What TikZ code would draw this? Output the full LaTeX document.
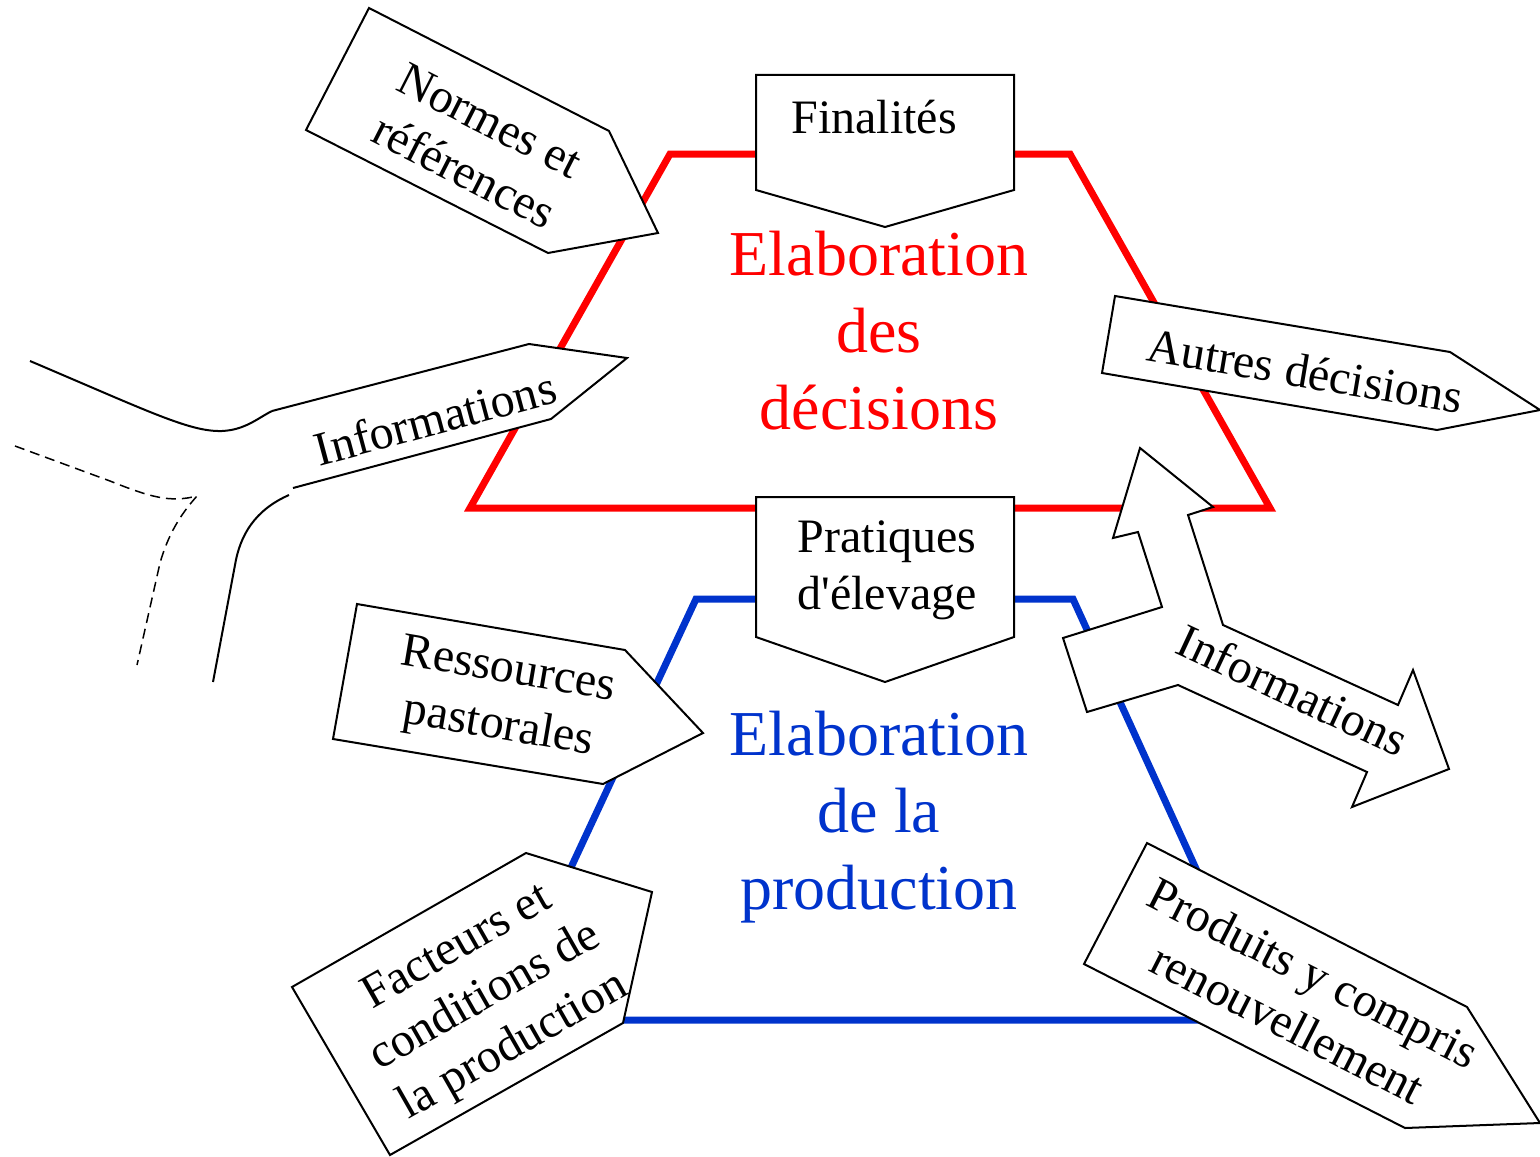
\documentclass[tikz,border=0pt]{standalone}
\usepackage{fontspec}
\setmainfont{Liberation Serif}
\definecolor{prodblue}{RGB}{0,51,204}
\begin{document}
\begin{tikzpicture}[x=0.5pt,y=-0.5pt,
  hexred/.style={draw=red, line width=3.5pt, line join=miter},
  hexblue/.style={draw=prodblue, line width=3.5pt, line join=miter},
  tag/.style={draw=black, fill=white, line width=1pt, line join=miter},
  flow/.style={draw=black, line width=1pt},
  flowdash/.style={draw=black, line width=0.75pt, dash pattern=on 5pt off 3pt},
  lbl/.style={font=\fontsize{24}{28.5}\selectfont, align=center, inner sep=0pt},
  title/.style={font=\fontsize{32}{38.5}\selectfont, align=center, inner sep=0pt}]
\useasboundingbox (0,0) rectangle (1540,1156);

% the two decision levels
\draw[hexred] (670,154) -- (1070,154) -- (1270,508) -- (470,508) -- cycle;
\draw[hexblue] (696,599) -- (1073,599) -- (1265,1020) -- (500,1020) -- cycle;

\node[title, text=red] (decisions) at (879,331) {Elaboration\\des\\décisions};
\node[title, text=prodblue] (production) at (879,817) {Elaboration\\de la\\production};

% top and middle tags
\draw[tag] (756,75) -- (1014,75) -- (1014,190) -- (885,227) -- (756,190) -- cycle;
\node[lbl] (finalites) at (874,117) {Finalités};
\draw[tag] (756,497) -- (1014,497) -- (1014,637) -- (885,682) -- (756,637) -- cycle;
\node[lbl] (pratiques) at (887,570) {Pratiques\\d\textquotesingle élevage};

% inputs on the left
\draw[tag] (369,8) -- (609,131) -- (658,233) -- (548,253) -- (306,130) -- cycle;
\node[lbl, rotate=-27] (normes) at (477,146) {Normes et\\références};

\fill[white] (272,411) -- (529,344) -- (627,358) -- (551,419) -- (293,488) -- (288,497) -- cycle;
\draw[flow, line join=miter] (293,488) -- (551,419) -- (627,358) -- (529,344) -- (272,411);
\node[lbl, rotate=15] (infoL) at (435,418) {Informations};
\draw[flow] (30,361) .. controls (150,412) and (190,432) .. (222,431)
  .. controls (245,430) and (258,418) .. (272,411);
\draw[flow] (289,495) .. controls (255,510) and (240,535) .. (235,565) -- (213,682);
\draw[flowdash] (15,446) -- (110,481) .. controls (150,497) and (170,503) .. (197,496)
  .. controls (180,515) and (168,535) .. (160,563) -- (137,665);

\draw[tag] (357,604) -- (625,650) -- (703,733) -- (603,784) -- (333,739) -- cycle;
\node[lbl, rotate=-9.6] (ressources) at (503,700) {Ressources\\pastorales};

\draw[tag] (526,853) -- (652,892) -- (623,1023) -- (390,1155) -- (292,987) -- cycle;
\node[lbl, rotate=29.7] (facteurs) at (486,998) {Facteurs et\\conditions de\\la production};

% outputs on the right
\draw[tag] (1115,296) -- (1450,352) -- (1540,410) -- (1437,430) -- (1102,373) -- cycle;
\node[lbl, rotate=-9.5] (autres) at (1305,371) {Autres décisions};

\draw[tag] (1140,448) -- (1213,507) -- (1188,515) -- (1223,625) -- (1398,705)
  -- (1413,670) -- (1449,769) -- (1352,807) -- (1367,772) -- (1178,685)
  -- (1087,712) -- (1063,638) -- (1162,607) -- (1138,532) -- (1113,538) -- cycle;
\node[lbl, rotate=-25] (infoR) at (1293,690) {Informations};

\draw[tag] (1147,843) -- (1467,1007) -- (1540,1123) -- (1405,1128) -- (1084,964) -- cycle;
\node[lbl, rotate=-27] (produits) at (1301,998) {Produits y compris\\renouvellement};
\end{tikzpicture}
\end{document}
